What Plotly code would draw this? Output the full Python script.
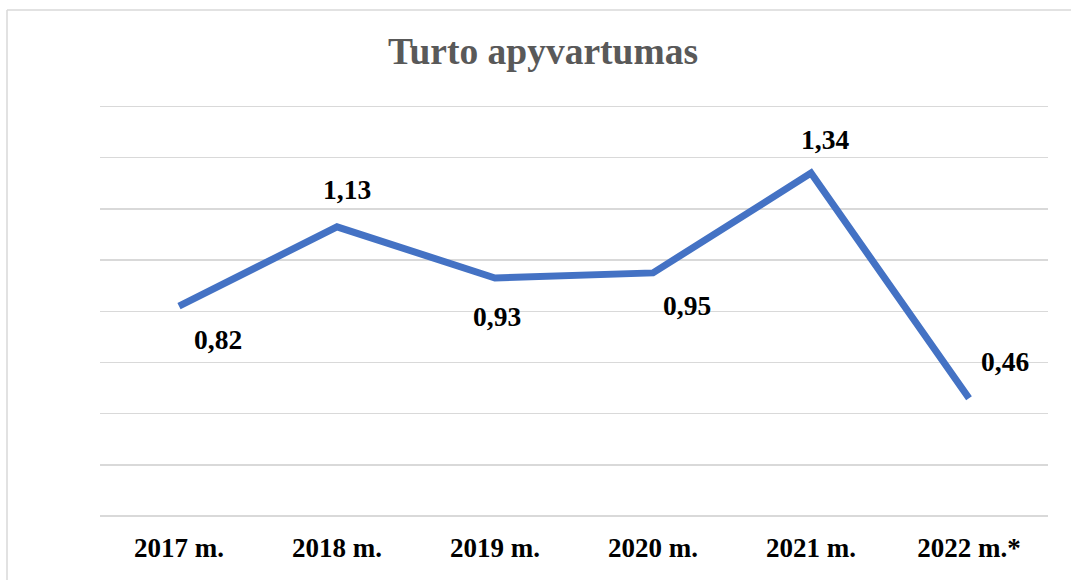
import plotly.graph_objects as go

categories = ["2017 m.", "2018 m.", "2019 m.", "2020 m.", "2021 m.", "2022 m.*"]
values = [0.82, 1.13, 0.93, 0.95, 1.34, 0.46]
labels = ["0,82", "1,13", "0,93", "0,95", "1,34", "0,46"]
label_xshift = [39, 10, 2, 34, 14, 36]
label_yshift = [-33, 37, -38, -33, 34, 37]

W, H = 1071, 580
ml, mr, mt, mb = 100, 23, 104, 64
pw, ph = W - ml - mr, H - mt - mb

fig = go.Figure()
fig.add_trace(go.Scatter(
    x=categories, y=values, mode="lines",
    line=dict(color="#4472C4", width=7),
    hoverinfo="skip", showlegend=False,
))

for c, v, t, dx, dy in zip(categories, values, labels, label_xshift, label_yshift):
    fig.add_annotation(
        x=c, y=v, text=t, showarrow=False, xshift=dx, yshift=dy,
        font=dict(family="Liberation Serif", size=27.5, color="#000000", weight="bold"),
    )

# outer chart frame: only its top and left edges are inside the picture
fig.add_shape(
    type="line", xref="paper", yref="paper",
    x0=(7 - ml) / pw, x1=(W + 20 - ml) / pw,
    y0=(mt + ph - 10) / ph, y1=(mt + ph - 10) / ph,
    line=dict(color="#d9d9d9", width=1.5), layer="below",
)
fig.add_shape(
    type="line", xref="paper", yref="paper",
    x0=(7 - ml) / pw, x1=(7 - ml) / pw,
    y0=-(H + 20 - mt - ph) / ph, y1=(mt + ph - 10) / ph,
    line=dict(color="#d9d9d9", width=1.5), layer="below",
)

fig.update_layout(
    width=W, height=H,
    margin=dict(l=ml, r=mr, t=mt, b=mb),
    paper_bgcolor="white", plot_bgcolor="white",
    hovermode=False,
    title=dict(
        text="Turto apyvartumas", x=(543 - ml) / pw, xanchor="center", xref="paper",
        y=1 - 51 / H, yanchor="middle",
        font=dict(family="Liberation Serif", size=37.5, color="#595959", weight="bold"),
    ),
    xaxis=dict(
        type="category", range=[-0.5, 5.5], showgrid=False, zeroline=False,
        showline=False, ticks="",
        tickfont=dict(family="Liberation Serif", size=27, color="#000000", weight="bold"),
        ticklabelstandoff=13,
    ),
    yaxis=dict(
        range=[0, 1.61], dtick=0.2, tick0=0, showgrid=True, gridcolor="#d9d9d9",
        gridwidth=1.5, zeroline=True, zerolinecolor="#d9d9d9", zerolinewidth=1.5,
        showticklabels=False, ticks="", showline=False,
    ),
)

fig.write_html(
    "out.html",
    config={"displayModeBar": False, "staticPlot": True},
    post_script="document.body.style.margin='0';document.body.style.overflow='hidden';",
)
